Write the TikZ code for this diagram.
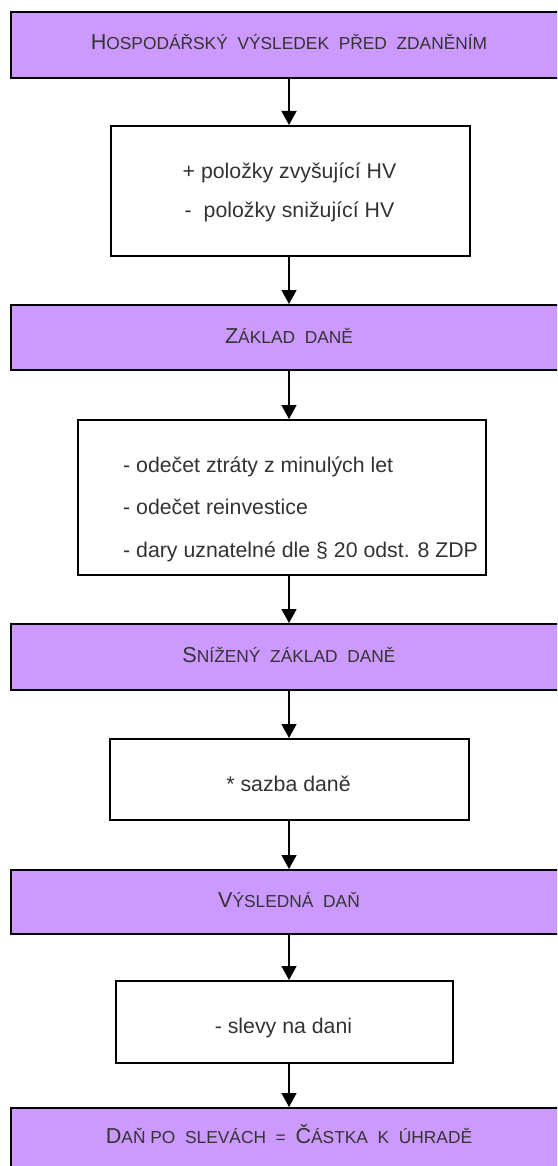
\documentclass[tikz,border=0pt]{standalone}
\usepackage{fontspec}
\setmainfont{Liberation Sans}
\usetikzlibrary{arrows.meta}

\definecolor{lav}{RGB}{204,153,255}
\definecolor{ink}{RGB}{51,51,51}

% body text and fake small caps for the headings
\newcommand\bodyfont{\fontsize{21.3}{25}\selectfont}
\newcommand\capL[1]{{\fontsize{21.6}{25}\selectfont #1}}
\newcommand\capS[1]{{\fontsize{17.35}{20}\selectfont #1}}

\tikzset{
  hbox/.style={draw=black, line width=1.6pt, fill=lav, rectangle,
               anchor=north west, inner sep=0pt},
  wbox/.style={draw=black, line width=1.6pt, fill=white, rectangle,
               anchor=north west, inner sep=0pt},
  htext/.style={text=ink, inner sep=0pt, anchor=base},
  btext/.style={text=ink, font=\bodyfont, inner sep=0pt, anchor=base},
  btextl/.style={btext, anchor=base west},
  flow/.style={line width=1.6pt, draw=black,
               -{Triangle[width=15pt,length=14pt]}}
}

\begin{document}
\begin{tikzpicture}[x=1pt, y=-1pt]
\useasboundingbox (0,0) rectangle (557,1166);
\clip (0,0) rectangle (557,1166);

\coordinate (spine) at (289,0);

% boxes
\node[hbox, minimum width=560pt, minimum height=66pt] (p1) at (10,11) {};
\node[wbox, minimum width=359pt, minimum height=130pt] (w1) at (110,125) {};
\node[hbox, minimum width=560pt, minimum height=65pt] (p2) at (10,304) {};
\node[wbox, minimum width=408pt, minimum height=155pt] (w2) at (77,419) {};
\node[hbox, minimum width=560pt, minimum height=66pt] (p3) at (10,623) {};
\node[wbox, minimum width=359pt, minimum height=81pt] (w3) at (109,738) {};
\node[hbox, minimum width=560pt, minimum height=64pt] (p4) at (10,869) {};
\node[wbox, minimum width=337pt, minimum height=82pt] (w4) at (115,980) {};
\node[hbox, minimum width=560pt, minimum height=100pt] (p5) at (10,1107) {};

% headings
\node[htext] (t1) at (289,50) {\capL{H}\capS{OSPODÁŘSKÝ\ \ VÝSLEDEK\ \ PŘED\ \ ZDANĚNÍM}};
\node[htext] (t2) at (289,343) {\capL{Z}\capS{ÁKLAD\ \ DANĚ}};
\node[htext] (t3) at (289,662) {\capL{S}\capS{NÍŽENÝ\ \ ZÁKLAD\ \ DANĚ}};
\node[htext] (t4) at (289,907) {\capL{V}\capS{ÝSLEDNÁ\ \ DAŇ}};
\node[htext] (t5) at (289,1143) {\capL{D}\capS{AŇ PO\ \ SLEVÁCH\ \ =\ \ }\capL{Č}\capS{ÁSTKA\ \ K\ \ ÚHRADĚ}};

% item texts
\node[btext] (a1) at (289.5,179) {+ položky zvyšující HV};
\node[btext] (a2) at (289.5,218) {-\ \ položky snižující HV};
\node[btextl] (b1) at (123,472) {- odečet ztráty z minulých let};
\node[btextl] (b2) at (123,514) {- odečet reinvestice};
\node[btextl] (b3) at (123,557) {- dary uznatelné dle § 20 odst. 8 ZDP};
\node[btext] (c1) at (288.5,791) {* sazba daně};
\node[btext] (d1) at (283.5,1033) {- slevy na dani};

% connectors
\draw[flow] (p1.south -| spine) -- (w1.north -| spine);
\draw[flow] (w1.south -| spine) -- (p2.north -| spine);
\draw[flow] (p2.south -| spine) -- (w2.north -| spine);
\draw[flow] (w2.south -| spine) -- (p3.north -| spine);
\draw[flow] (p3.south -| spine) -- (w3.north -| spine);
\draw[flow] (w3.south -| spine) -- (p4.north -| spine);
\draw[flow] (p4.south -| spine) -- (w4.north -| spine);
\draw[flow] (w4.south -| spine) -- (p5.north -| spine);
\end{tikzpicture}
\end{document}
